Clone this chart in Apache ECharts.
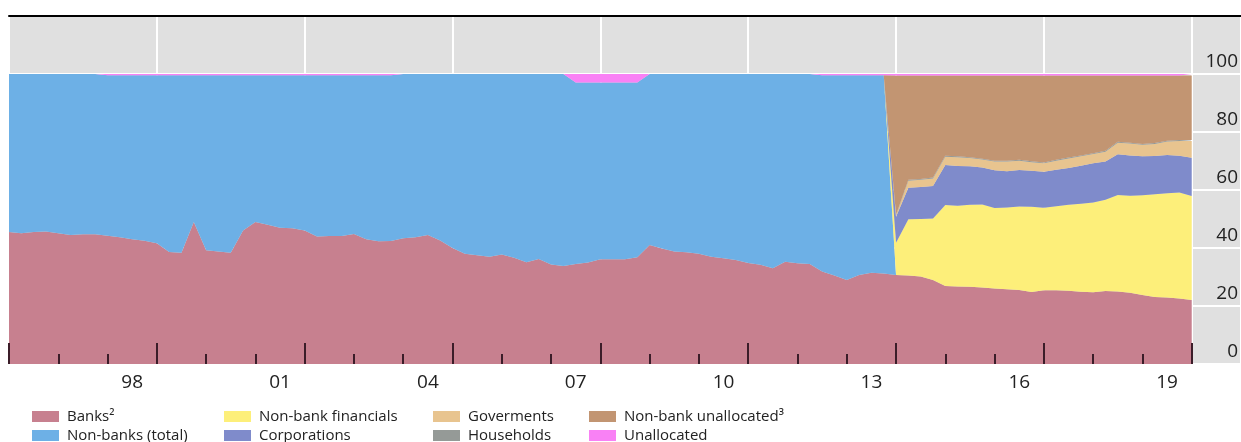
<!DOCTYPE html>
<html>
<head>
<meta charset="utf-8">
<script src="https://cdn.jsdelivr.net/npm/echarts@6/dist/echarts.min.js"></script>
<style>
html,body{margin:0;padding:0;background:#fff;}
#chart{width:1241px;height:442px;}
</style>
</head>
<body>
<div id="chart"></div>
<script>
// ---------- data ----------
// quarterly slots from 1996.00 to 2021.00 (the last 4 slots are empty space at the right)
const firstYear = 1996;
const slotCount = 101;
const quarters = [];
for (let i = 0; i < slotCount; i++) quarters.push((firstYear + i * 0.25).toFixed(2));

// Banks (share, %), 1996.00 .. 2020.00
const banks = [
  45.5,45.1,45.5,45.7,45.1,44.5,44.7,44.7,44.2,43.7,
  43.0,42.5,41.6,38.6,38.4,49.0,39.2,38.8,38.4,46.0,
  49.0,48.0,47.0,46.8,46.0,44.0,44.1,44.1,44.8,43.0,
  42.3,42.4,43.4,43.7,44.5,42.6,40.0,38.0,37.5,37.0,
  37.8,36.6,35.1,36.2,34.3,33.8,34.5,35.0,36.1,36.1,
  36.1,36.8,41.0,39.8,38.8,38.5,38.0,37.0,36.5,35.9,
  34.8,34.2,33.0,35.3,34.7,34.5,31.9,30.5,29.0,30.7,
  31.5,31.2,30.7,30.5,30.2,29.0,26.9,26.7,26.6,26.4,
  26.0,25.8,25.5,24.8,25.4,25.4,25.3,24.9,24.7,25.2,
  25.0,24.6,23.8,23.1,22.9,22.6,22.1
];
// Non-banks (total), from the first quarter until the break
const nonBanks = [
  54.5,54.9,54.5,54.3,54.9,55.5,55.3,55.3,55.4,55.9,
  56.6,57.1,58.0,61.0,61.2,50.6,60.4,60.8,61.2,53.6,
  50.6,51.6,52.6,52.8,53.6,55.6,55.5,55.5,54.8,56.6,
  57.3,57.2,56.6,56.3,55.5,57.4,60.0,62.0,62.5,63.0,
  62.2,63.4,64.9,63.8,65.7,66.2,62.6,62.1,61.0,61.0,
  61.0,60.3,59.0,60.2,61.2,61.5,62.0,63.0,63.5,64.1,
  65.2,65.8,67.0,64.7,65.3,65.5,67.7,69.1,70.6,68.9,
  68.1,68.4,0
];
// Breakdown of non-banks, starting at slot 71 (2013.75)
const breakdownStart = 71;
const nonBankFinancials = [0,
  11.1,19.4,19.8,21.2,27.9,27.9,28.3,28.6,27.8,28.2,
  28.8,29.4,28.5,29.0,29.6,30.4,31.0,31.4,33.3,33.4,
  34.4,35.4,36.0,36.5,35.8];
const corporations = [0,
  9.0,10.9,11.0,11.2,13.8,13.7,13.3,12.8,13.0,12.5,
  12.6,12.4,12.4,12.6,12.7,13.1,13.5,13.2,14.0,13.9,
  13.4,13.2,13.2,12.7,13.2];
const governments = [0,
  0.4,2.4,2.5,2.6,2.9,3.0,2.8,2.7,3.0,3.3,
  3.2,3.0,2.9,3.1,3.3,3.2,3.2,3.4,4.0,4.1,
  4.0,4.2,4.6,5.1,5.8];
const households = [0,
  0.3,0.3,0.3,0.3,0.3,0.3,0.3,0.3,0.3,0.3,
  0.3,0.3,0.3,0.3,0.3,0.3,0.3,0.3,0.3,0.3,
  0.3,0.3,0.3,0.3,0.3];
const nonBankUnallocated = [0,
  48.0,36.0,35.7,35.2,27.7,27.9,28.2,28.7,29.4,29.4,
  29.1,29.6,30.0,29.1,28.3,27.6,26.8,26.0,22.9,23.2,
  23.6,23.3,22.5,22.3,22.3];
// Unallocated (whole period)
const unallocated = [
  0,0,0,0,0,0,0,0,0.4,0.4,
  0.4,0.4,0.4,0.4,0.4,0.4,0.4,0.4,0.4,0.4,
  0.4,0.4,0.4,0.4,0.4,0.4,0.4,0.4,0.4,0.4,
  0.4,0.4,0,0,0,0,0,0,0,0,
  0,0,0,0,0,0,2.9,2.9,2.9,2.9,
  2.9,2.9,0,0,0,0,0,0,0,0,
  0,0,0,0,0,0,0.4,0.4,0.4,0.4,
  0.4,0.4,0.5,0.5,0.5,0.5,0.5,0.5,0.5,0.5,
  0.5,0.5,0.5,0.5,0.5,0.5,0.5,0.5,0.5,0.5,
  0.5,0.5,0.5,0.5,0.5,0.5,0.5
];

// axis ticks / labels
const yearTicks = [1996,1997,1998,1999,2000,2001,2002,2003,2004,2005,2006,2007,2008,
                   2009,2010,2011,2012,2013,2014,2015,2016,2017,2018,2019,2020];
const majorTicks = [1996,1999,2002,2005,2008,2011,2014,2017,2020];
const labelYears = [1998,2001,2004,2007,2010,2013,2016,2019];
const tickLabels = ['98','01','04','07','10','13','16','19'];
const yTickLabels = [0,20,40,60,80,100];

// ---------- chart ----------
function toSlots(values, offset) {
  return quarters.map((q, i) => {
    const k = i - offset;
    return (k >= 0 && k < values.length) ? values[k] : null;
  });
}
const seriesDefs = [
  {name:'Banks²', values:banks, offset:0, color:'#c7808f'},
  {name:'Non-banks (total)', values:nonBanks, offset:0, color:'#6db0e6'},
  {name:'Non-bank financials', values:nonBankFinancials, offset:breakdownStart, color:'#fdef7a'},
  {name:'Corporations', values:corporations, offset:breakdownStart, color:'#7f8bcb'},
  {name:'Goverments', values:governments, offset:breakdownStart, color:'#e8c48f'},
  {name:'Households', values:households, offset:breakdownStart, color:'#959a97'},
  {name:'Non-bank unallocated³', values:nonBankUnallocated, offset:breakdownStart, color:'#c29572'},
  {name:'Unallocated', values:unallocated, offset:0, color:'#f981f5'}
];
const series = seriesDefs.map(d => ({
  name: d.name,
  type: 'line',
  stack: 'total',
  data: toSlots(d.values, d.offset),
  symbol: 'none',
  showSymbol: false,
  lineStyle: {width: 0, color: d.color},
  itemStyle: {color: d.color},
  areaStyle: {color: d.color, opacity: 1},
  emphasis: {disabled: true},
  xAxisIndex: 4,
  yAxisIndex: 0
}));

const font = 'Open Sans';
const legendCommon = {
  orient: 'vertical', top: 407, height: 60, padding: 0, itemGap: 0,
  itemWidth: 27, itemHeight: 11, icon: 'rect', selectedMode: false,
  textStyle: {fontFamily: font, fontSize: 15, color: '#222', lineHeight: 19, padding: [0,0,0,3]}
};
const legends = [
  {left: 32, data: ['Banks²', 'Non-banks (total)']},
  {left: 224, data: ['Non-bank financials', 'Corporations']},
  {left: 433, data: ['Goverments', 'Households']},
  {left: 589, data: ['Non-bank unallocated³', 'Unallocated']}
].map(l => Object.assign({}, legendCommon, l));

const xBase = {type: 'value', min: 1996, max: 2021, gridIndex: 0};
const chart = echarts.init(document.getElementById('chart'), null, {renderer: 'canvas'});
chart.setOption({
  animation: false,
  backgroundColor: '#ffffff',
  grid: {left: 9, right: 0, top: 16, bottom: 78, show: true, backgroundColor: '#e0e0e0',
         borderWidth: 0, containLabel: false, outerBoundsMode: 'none'},
  legend: legends,
  xAxis: [
    Object.assign({}, xBase, {
      position: 'bottom', z: 10,
      axisLine: {show: false, onZero: false},
      axisTick: {show: true, inside: true, length: 10, customValues: yearTicks,
                 lineStyle: {color: '#3b1d29', width: 2}},
      axisLabel: {show: true, customValues: labelYears.map(y => y + 0.5), margin: 9,
                  fontFamily: font, fontSize: 19, color: '#222',
                  formatter: v => tickLabels[labelYears.indexOf(Math.round(v - 0.5))] || ''},
      splitLine: {show: false}
    }),
    Object.assign({}, xBase, {
      position: 'bottom', z: 10,
      axisLine: {show: false, onZero: false},
      axisTick: {show: true, inside: true, length: 21, customValues: majorTicks,
                 lineStyle: {color: '#3b1d29', width: 2}},
      axisLabel: {show: false},
      splitLine: {show: false}
    }),
    Object.assign({}, xBase, {
      position: 'bottom', interval: 3,
      axisLine: {show: false, onZero: false},
      axisTick: {show: false},
      axisLabel: {show: false},
      splitLine: {show: true, lineStyle: {color: '#ffffff', width: 2}}
    }),
    Object.assign({}, xBase, {
      position: 'top', z: 10,
      axisLine: {show: true, onZero: false, lineStyle: {color: '#000', width: 2}},
      axisTick: {show: false},
      axisLabel: {show: false},
      splitLine: {show: false}
    }),
    {
      type: 'category', gridIndex: 0, data: quarters, boundaryGap: false, show: false,
      axisLine: {show: false, onZero: false}, axisTick: {show: false},
      axisLabel: {show: false}, splitLine: {show: false}
    }
  ],
  yAxis: [{
    type: 'value', position: 'right', min: 0, max: 120, interval: 20,
    axisLine: {show: false}, axisTick: {show: false},
    splitLine: {show: true, lineStyle: {color: '#ffffff', width: 2}},
    axisLabel: {inside: true, margin: 3, fontFamily: font, fontSize: 19, color: '#222',
                verticalAlign: 'bottom', lineHeight: 20, padding: [0, 0, 2, 0],
                formatter: v => yTickLabels.indexOf(v) >= 0 ? String(v) : ''}
  }],
  series: series
});
</script>
</body>
</html>
